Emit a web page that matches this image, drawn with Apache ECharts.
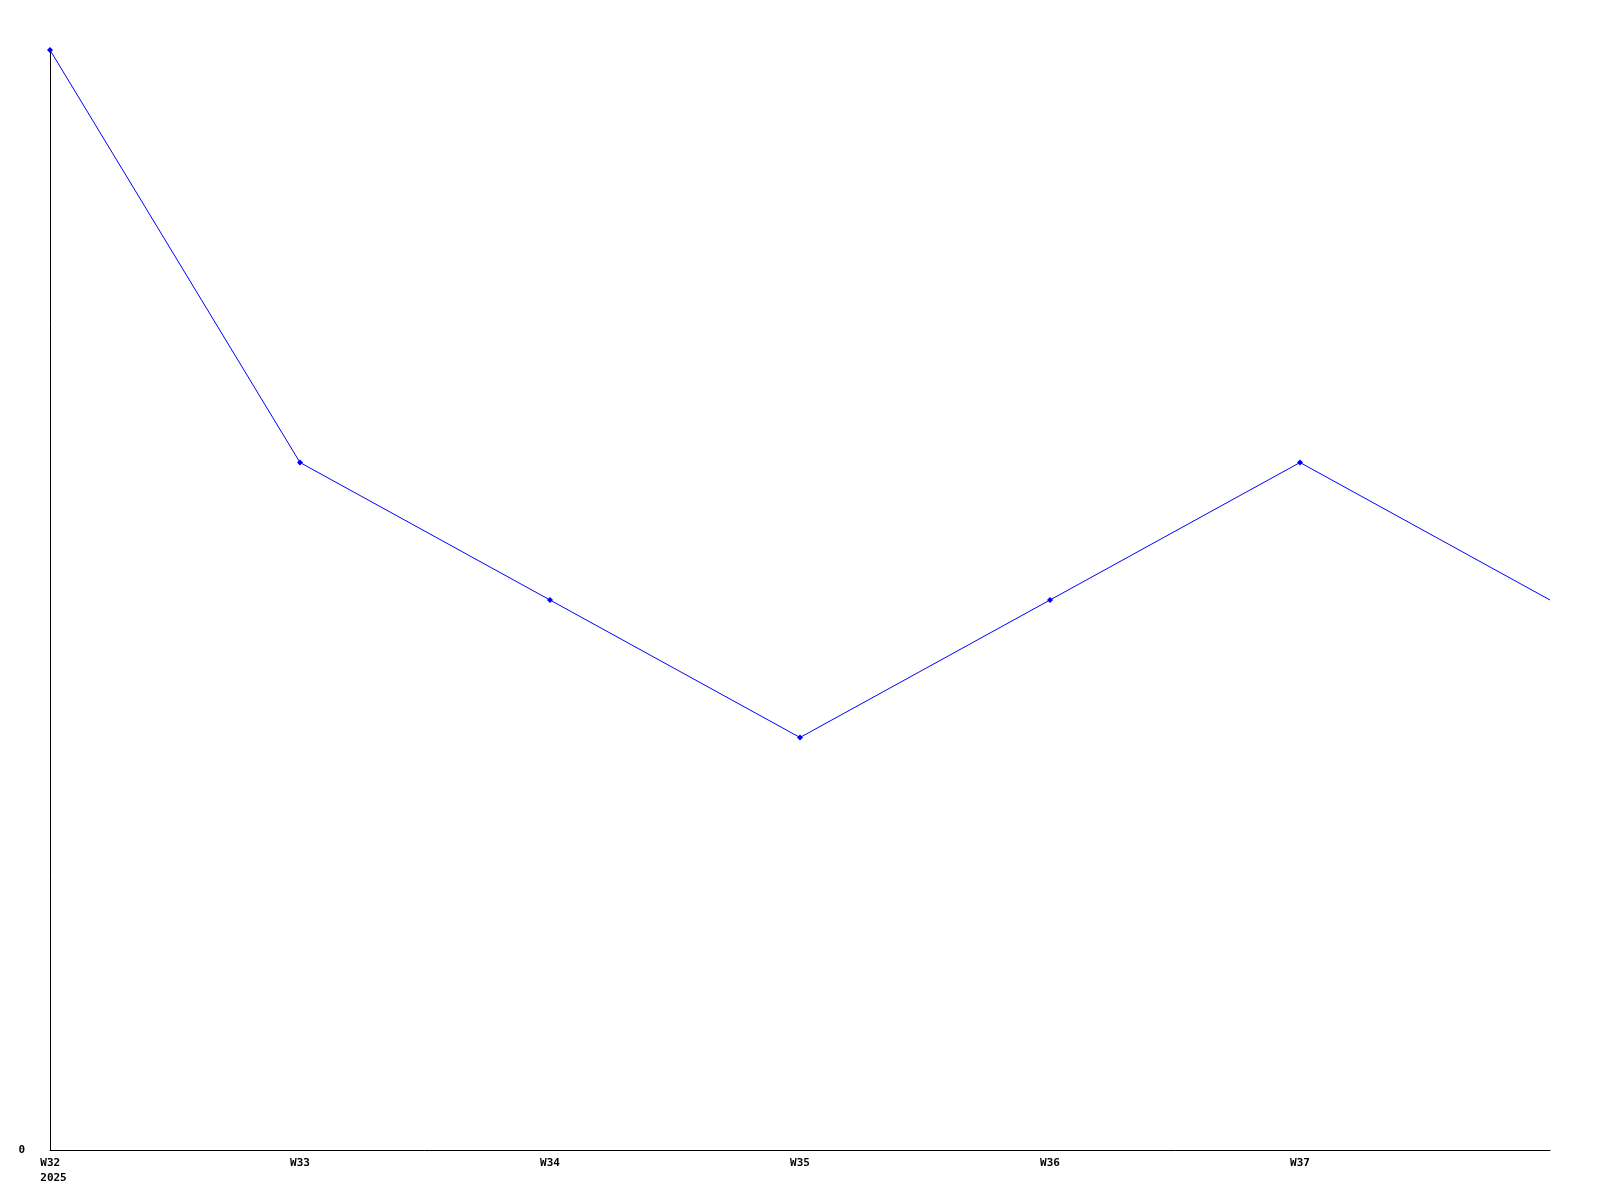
<!DOCTYPE html>
<html>
<head>
<meta charset="utf-8">
<style>html,body{margin:0;padding:0;background:#fff}#c{width:1600px;height:1200px}</style>
<script src="https://cdn.jsdelivr.net/npm/echarts@6/dist/echarts.min.js"></script>
</head>
<body>
<div id="c"></div>
<script>
const categories = ["W32", "W33", "W34", "W35", "W36", "W37", "W38"];
const tickLabels = ["W32", "W33", "W34", "W35", "W36", "W37", ""];
const yearLabel = "2025";
const values = [8, 5, 4, 3, 4, 5, 4];
const yTicks = [0];

const chart = echarts.init(document.getElementById('c'), null, {renderer: 'canvas'});
const font = {fontFamily: 'DejaVu Sans Mono', fontWeight: 'bold', fontSize: 11, color: '#000'};
const richLeft = Object.assign({}, font, {align: 'left', padding: [0, 0, 0, 7], lineHeight: 15});
chart.setOption({
  animation: false,
  backgroundColor: '#fff',
  grid: {left: 50, right: 50, top: 50, bottom: 50, containLabel: false},
  xAxis: {
    type: 'category',
    data: categories,
    boundaryGap: false,
    axisLine: {show: true, lineStyle: {color: '#000', width: 1}},
    axisTick: {show: false},
    splitLine: {show: false},
    axisLabel: Object.assign({}, font, {
      interval: 0, margin: 6, lineHeight: 15,
      formatter: (v, i) => i === 0 ? '{a|' + tickLabels[0] + '}\n{a|' + yearLabel + '}' : tickLabels[i],
      rich: {a: richLeft}
    })
  },
  yAxis: {
    type: 'value',
    min: 0, max: 8, interval: 8,
    axisLine: {show: true, lineStyle: {color: '#000', width: 1}},
    axisTick: {show: false},
    splitLine: {show: false},
    axisLabel: Object.assign({}, font, {
      margin: 25,
      formatter: v => yTicks.includes(v) ? String(v) : ''
    })
  },
  series: [{
    type: 'line',
    data: values.map((v, i) => i === values.length - 1 ? {value: v, symbol: 'none'} : v),
    symbol: 'diamond',
    symbolSize: 6,
    showSymbol: true,
    lineStyle: {color: '#0000ff', width: 1},
    itemStyle: {color: '#0000ff'},
    emphasis: {disabled: true}
  }]
});
</script>
</body>
</html>
